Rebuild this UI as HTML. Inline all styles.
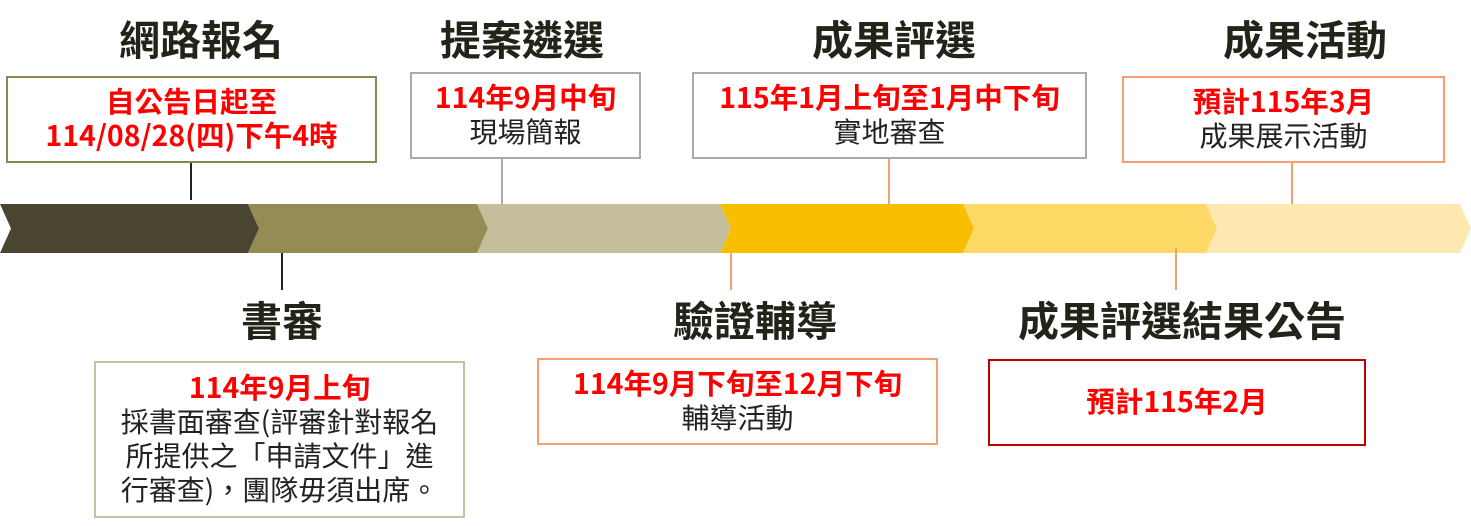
<!DOCTYPE html>
<html><head><meta charset="utf-8"><style>
body{margin:0;width:1471px;height:526px;background:#fff;position:relative;overflow:hidden;font-family:"Noto Sans CJK TC","Liberation Sans",sans-serif;}
.t{position:absolute;font-size:41px;line-height:44px;font-weight:bold;color:#23231a;text-align:center;white-space:nowrap;transform:translateX(-50%);}
.b{position:absolute;box-sizing:border-box;border:2px solid;display:flex;flex-direction:column;justify-content:center;align-items:center;text-align:center;font-size:28px;line-height:34px;color:#222;white-space:nowrap;padding-bottom:4px;}
.r{color:#f00;font-weight:bold;font-size:28.5px;}
.l{position:absolute;width:2px;}
</style></head><body>
<svg width="1471" height="526" style="position:absolute;left:0;top:0">
<polygon points="0,204 248,204 259,228.5 248,253 0,253 11,228.5" fill="#4A4530"/>
<polygon points="248,204 477,204 488,228.5 477,253 248,253 259,228.5" fill="#948B55"/>
<polygon points="477,204 720,204 731,228.5 720,253 477,253 488,228.5" fill="#C5BE9A"/>
<polygon points="720,204 963,204 974,228.5 963,253 720,253 731,228.5" fill="#F8BF00"/>
<polygon points="963,204 1206,204 1217,228.5 1206,253 963,253 974,228.5" fill="#FED966"/>
<polygon points="1206,204 1460,204 1471,228.5 1460,253 1206,253 1217,228.5" fill="#FDE8B2"/>
</svg>
<div class="l" style="left:190px;top:162px;height:38px;background:#222"></div>
<div class="l" style="left:501px;top:158px;height:46px;background:#aaa"></div>
<div class="l" style="left:888px;top:158px;height:46px;background:#F4A070"></div>
<div class="l" style="left:1291px;top:162px;height:42px;background:#F4A070"></div>
<div class="l" style="left:281px;top:253px;height:37px;background:#222"></div>
<div class="l" style="left:730px;top:253px;height:37px;background:#F4A070"></div>
<div class="l" style="left:1175px;top:248px;height:42px;background:#F4A070"></div>

<div class="t" style="left:201px;top:15px">網路報名</div>
<div class="t" style="left:522px;top:15px">提案遴選</div>
<div class="t" style="left:894px;top:15px">成果評選</div>
<div class="t" style="left:1305px;top:15px">成果活動</div>
<div class="t" style="left:282px;top:296px">書審</div>
<div class="t" style="left:755px;top:296px">驗證輔導</div>
<div class="t" style="left:1182px;top:296px">成果評選結果公告</div>

<div class="b" style="left:6px;top:76px;width:371px;height:87px;border-color:#8F8550"><div class="r">自公告日起至</div><div class="r">114/08/28(四)下午4時</div></div>
<div class="b" style="left:410px;top:72px;width:231px;height:87px;border-color:#aaa"><div class="r">114年9月中旬</div><div>現場簡報</div></div>
<div class="b" style="left:692px;top:72px;width:395px;height:87px;border-color:#aaa"><div class="r">115年1月上旬至1月中下旬</div><div>實地審查</div></div>
<div class="b" style="left:1122px;top:76px;width:323px;height:87px;border-color:#F4A070"><div class="r">預計115年3月</div><div>成果展示活動</div></div>
<div class="b" style="left:94px;top:361px;width:371px;height:157px;border-color:#C8C0A0"><div class="r">114年9月上旬</div><div>採書面審查(評審針對報名<br>所提供之「申請文件」進<br>行審查)，團隊毋須出席。</div></div>
<div class="b" style="left:537px;top:358px;width:401px;height:87px;border-color:#F4A070"><div class="r">114年9月下旬至12月下旬</div><div>輔導活動</div></div>
<div class="b" style="left:988px;top:359px;width:378px;height:87px;border-color:#C00000"><div class="r">預計115年2月</div></div>
</body></html>
